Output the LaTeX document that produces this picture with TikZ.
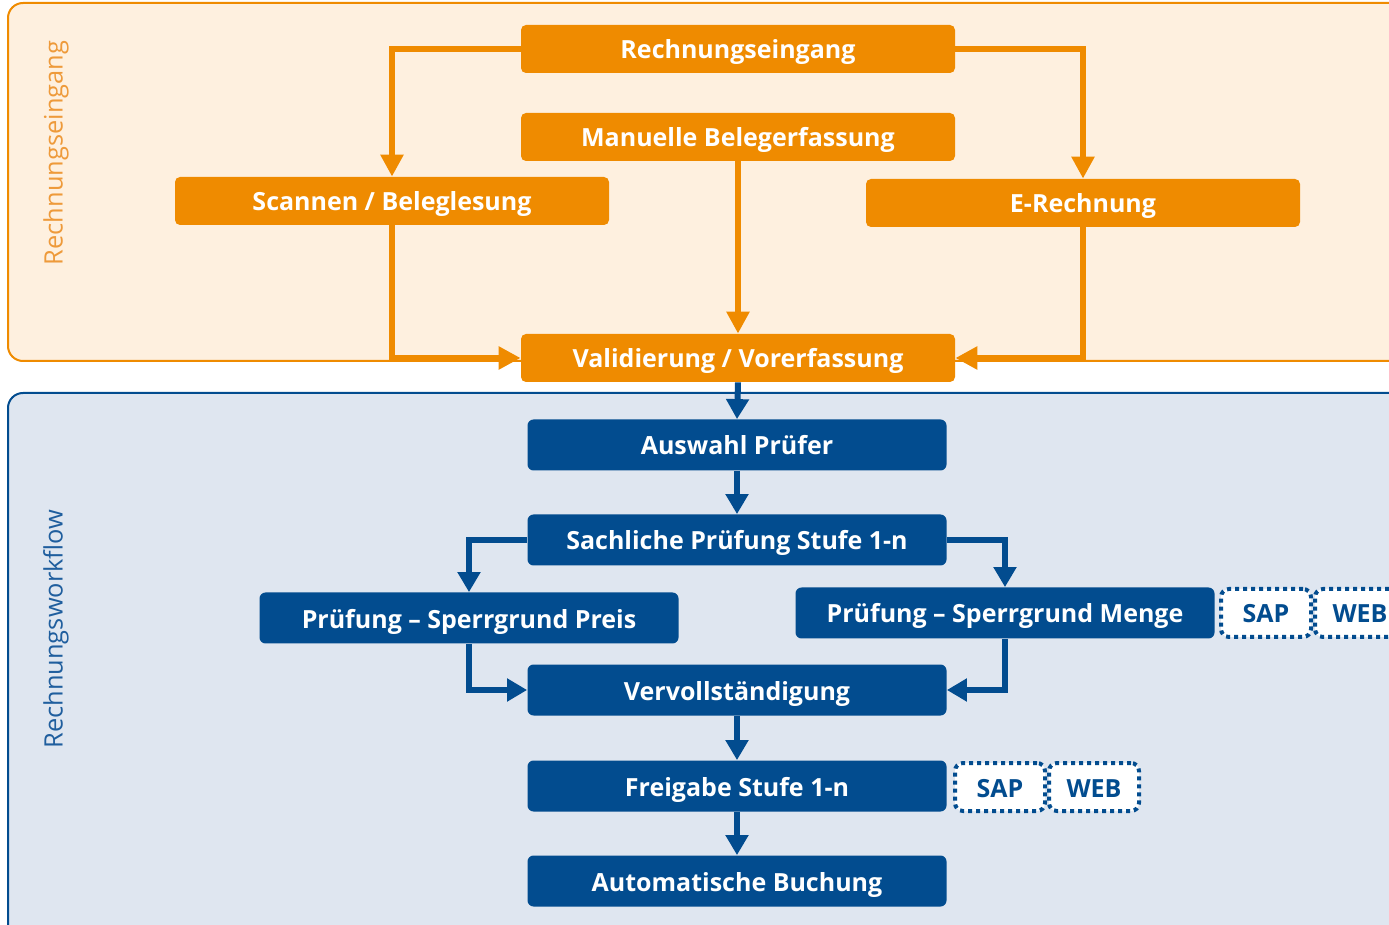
\documentclass[tikz,border=0pt]{standalone}
\usepackage{fontspec}
\setmainfont{Open Sans}
\usetikzlibrary{arrows.meta}
\definecolor{rgOrange}{HTML}{EF8B00}
\definecolor{rgOrangeBg}{HTML}{FEF0DF}
\definecolor{rgOrangeTxt}{HTML}{EE9A3A}
\definecolor{rwBlue}{HTML}{024C8F}
\definecolor{rwBlueBg}{HTML}{DFE6F0}
\definecolor{rwBlueTxt}{HTML}{1F5E9E}
\begin{document}
\begin{tikzpicture}[x=0.5pt,y=-0.5pt,
	obox/.style={rectangle,rounded corners=2.5pt,fill=rgOrange,text=white,font=\bfseries\fontsize{12.5}{15}\selectfont,text height=11.5pt,text depth=1.5pt,minimum width=217pt,minimum height=24pt,inner sep=0pt},
	bbox/.style={rectangle,rounded corners=3pt,fill=rwBlue,text=white,font=\bfseries\fontsize{12.5}{15}\selectfont,text height=11.5pt,text depth=1.5pt,minimum width=209.5pt,minimum height=25.5pt,inner sep=0pt},
	tagbox/.style={rectangle,draw=rwBlue,fill=white,line width=2pt,dash pattern=on 2pt off 2pt,rounded corners=4pt,text=rwBlue,font=\bfseries\fontsize{12.5}{15}\selectfont,text height=11.5pt,text depth=1.5pt,minimum width=45pt,minimum height=24pt,inner sep=0pt},
	oline/.style={draw=rgOrange,line width=3pt,-{Triangle[length=11pt,width=11pt]}},
	bline/.style={draw=rwBlue,line width=3pt,-{Triangle[length=10pt,width=11pt]}}]
			\useasboundingbox (0,0) rectangle (1389,925);
			\clip (0,0) rectangle (1389,925);
			% panels
			\draw[rgOrange,fill=rgOrangeBg,line width=1pt,rounded corners=7.5pt] (8,3) rectangle (1420,361);
			\draw[rwBlue,fill=rwBlueBg,line width=1pt,rounded corners=7.5pt] (8,393) rectangle (1420,960);
			\node[rotate=90,text=rgOrangeTxt,font=\fontsize{12.7}{14}\selectfont] (LE) at (56,153) {Rechnungseingang};
			\node[rotate=90,text=rwBlueTxt,font=\fontsize{12.7}{14}\selectfont] (LW) at (56,629) {Rechnungsworkflow};
			% eingang
			\node[obox] (RE) at (738,49) {Rechnungseingang};
			\node[obox] (MB) at (738,137) {Manuelle Belegerfassung};
			\node[obox] (SB) at (392,201) {Scannen / Beleglesung};
			\node[obox] (ER) at (1083,203) {E-Rechnung};
			\node[obox] (VV) at (738,358) {Validierung / Vorerfassung};
			% workflow
			\node[bbox] (AP) at (737,445) {Auswahl Prüfer};
			\node[bbox] (SP) at (737,540) {Sachliche Prüfung Stufe 1-n};
			\node[bbox] (PP) at (469,618) {Prüfung -- Sperrgrund Preis};
			\node[bbox] (PM) at (1005,613) {Prüfung -- Sperrgrund Menge};
			\node[bbox] (VS) at (737,690) {Vervollständigung};
			\node[bbox] (FS) at (737,786) {Freigabe Stufe 1-n};
			\node[bbox] (AB) at (737,881) {Automatische Buchung};
			\node[tagbox] (SAP1) at (1266,613) {SAP};
			\node[tagbox] (WEB1) at (1360,613) {WEB};
			\node[tagbox] (SAP2) at (1000,787) {SAP};
			\node[tagbox] (WEB2) at (1094,787) {WEB};
			\draw[oline] (RE.west) -| (SB.north);
			\draw[oline] (RE.east) -| (ER.north);
			\draw[oline] (MB.south) -- (VV.north);
			\draw[oline] (SB.south) |- (VV.west);
			\draw[oline] (ER.south) |- (VV.east);
			\draw[bline] (VV.south) -- (AP.north);
			\draw[bline] (AP.south) -- (SP.north);
			\draw[bline] (SP.west) -| (PP.north);
			\draw[bline] (SP.east) -| (PM.north);
			\draw[bline] (PP.south) |- (VS.west);
			\draw[bline] (PM.south) |- (VS.east);
			\draw[bline] (VS.south) -- (FS.north);
			\draw[bline] (FS.south) -- (AB.north);
		\end{tikzpicture}
\end{document}
